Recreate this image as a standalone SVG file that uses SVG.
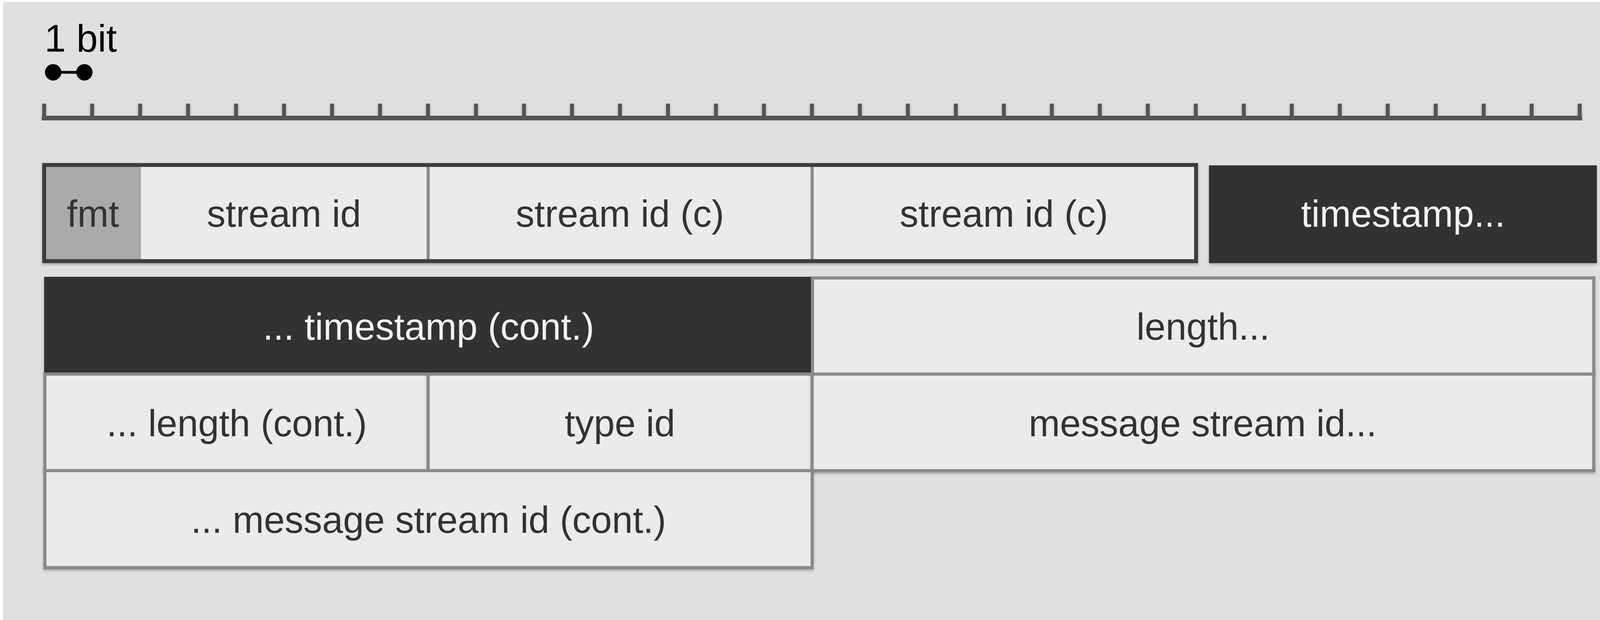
<svg xmlns="http://www.w3.org/2000/svg" width="4194" height="1586" viewBox="0 0 4194 1586">
<style>
  .lbl { font-family: "Liberation Sans", Arial, sans-serif; font-size: 96px; text-anchor: middle; fill: #333333; }
  .lblw { font-family: "Liberation Sans", Arial, sans-serif; font-size: 96px; text-anchor: middle; fill: #f2f2f2; }
  .cell { fill: #ebebeb; stroke: #8a8a8a; stroke-width: 8; }
  .dark { fill: #333333; }
  .div { stroke: #8a8a8a; stroke-width: 8; }
  .ruler { stroke: #555555; fill: none; }
</style>
<defs>
  <filter id="sh" x="-5%" y="-5%" width="110%" height="120%">
    <feDropShadow dx="0" dy="4" stdDeviation="3" flood-color="#000000" flood-opacity="0.25"/>
  </filter>
</defs>
<rect x="0" y="0" width="4194" height="1586" fill="#ffffff"/>
<rect x="8" y="5" width="4186" height="1581" fill="#e0e0e0"/>

<g id="scale">
  <text x="114" y="132" font-family="Liberation Sans, Arial, sans-serif" font-size="98" fill="#000000">1 bit</text>
  <line x1="136" y1="185" x2="216" y2="185" stroke="#000000" stroke-width="7"/>
  <circle cx="136" cy="185" r="21" fill="#000000"/>
  <circle cx="216" cy="185" r="21" fill="#000000"/>
</g>

<g id="ruler" filter="url(#sh)">
  <path class="ruler" stroke-width="12" d="M107,302 H4050"/>
  <path class="ruler" stroke-width="10" d="M113,265V302 M235.8,265V302 M358.7,265V302 M481.5,265V302 M604.4,265V302 M727.2,265V302 M850.1,265V302 M972.9,265V302 M1095.7,265V302 M1218.6,265V302 M1341.4,265V302 M1464.3,265V302 M1587.1,265V302 M1710,265V302 M1832.8,265V302 M1955.6,265V302 M2078.5,265V302 M2201.3,265V302 M2324.2,265V302 M2447,265V302 M2569.9,265V302 M2692.7,265V302 M2815.5,265V302 M2938.4,265V302 M3061.2,265V302 M3184.1,265V302 M3306.9,265V302 M3429.8,265V302 M3552.6,265V302 M3675.4,265V302 M3798.3,265V302 M3921.1,265V302 M4044,265V302"/>
</g>

<g id="connectors"></g>

<g id="row1-group" filter="url(#sh)">
  <rect x="113" y="422" width="2949" height="246" fill="#ebebeb"/>
  <rect x="113" y="422" width="248" height="246" fill="#aaaaaa"/>
  <line class="div" x1="1096" y1="422" x2="1096" y2="668"/>
  <line class="div" x1="2079" y1="422" x2="2079" y2="668"/>
  <rect x="113" y="422" width="2949" height="246" fill="none" stroke="#3c3c3c" stroke-width="10"/>
</g>
<g id="fmt"><text class="lbl" x="238" y="580">fmt</text></g>
<g id="stream-id"><text class="lbl" x="727" y="580">stream id</text></g>
<g id="stream-id-c1"><text class="lbl" x="1587" y="580">stream id (c)</text></g>
<g id="stream-id-c2"><text class="lbl" x="2570" y="580">stream id (c)</text></g>

<g id="timestamp" filter="url(#sh)">
  <rect class="dark" x="3095" y="423" width="993" height="250"/>
  <text class="lblw" x="3592" y="580">timestamp...</text>
</g>

<g id="timestamp-cont" filter="url(#sh)">
  <rect class="dark" x="113" y="708" width="1964" height="247"/>
  <text class="lblw" x="1097" y="869">... timestamp (cont.)</text>
</g>

<g id="length" filter="url(#sh)">
  <rect class="cell" x="2080" y="711" width="2000" height="246"/>
  <text class="lbl" x="3080" y="869">length...</text>
</g>

<g id="length-cont" filter="url(#sh)">
  <rect class="cell" x="115" y="957" width="981" height="247"/>
  <text class="lbl" x="606" y="1116">... length (cont.)</text>
</g>

<g id="type-id" filter="url(#sh)">
  <rect class="cell" x="1096" y="957" width="983" height="247"/>
  <text class="lbl" x="1587" y="1116">type id</text>
</g>

<g id="message-stream-id" filter="url(#sh)">
  <rect class="cell" x="2079" y="957" width="2001" height="247"/>
  <text class="lbl" x="3079" y="1116">message stream id...</text>
</g>

<g id="message-stream-id-cont" filter="url(#sh)">
  <rect class="cell" x="115" y="1204" width="1964" height="248"/>
  <text class="lbl" x="1097" y="1363">... message stream id (cont.)</text>
</g>
</svg>
